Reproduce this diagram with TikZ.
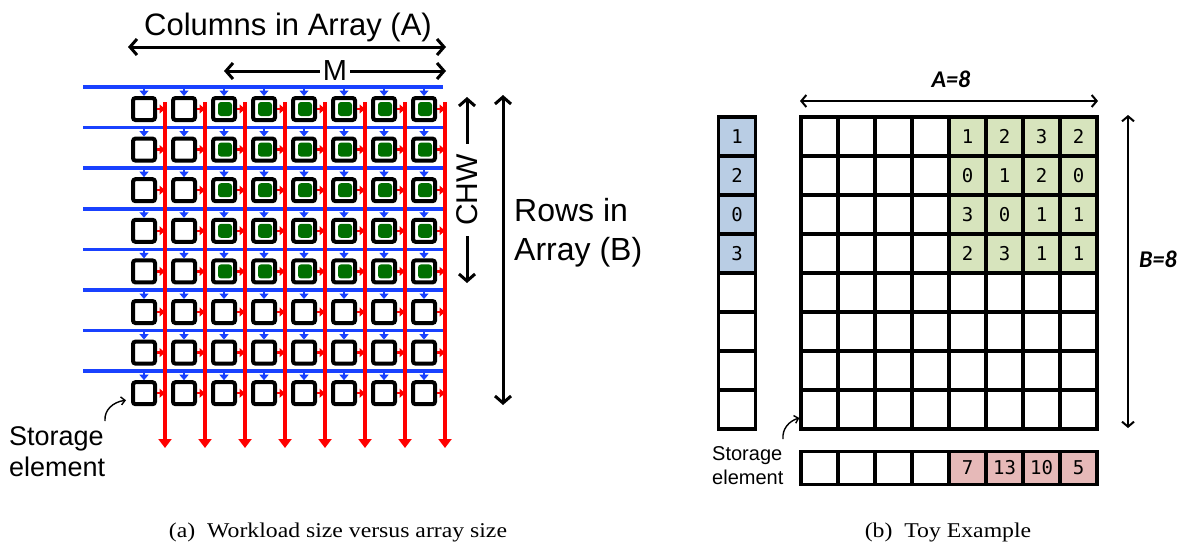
\documentclass[tikz,border=0pt]{standalone}
\usepackage{graphicx}
\usepackage{fontspec}
\setmainfont{Liberation Sans}
\newfontfamily\capfont{Liberation Serif}
\newfontfamily\numfont{DejaVu Sans Mono}
\newfontfamily\calfont{Carlito}
\usetikzlibrary{arrows.meta}

\definecolor{wireblue}{RGB}{25,65,255}
\definecolor{wirered}{RGB}{255,0,0}
\definecolor{pegreen}{RGB}{0,112,0}
\definecolor{inblue}{RGB}{185,205,228}
\definecolor{wgreen}{RGB}{215,228,189}
\definecolor{outpink}{RGB}{230,185,184}

\newcommand\fsz[2]{\fontsize{#1}{#2}\selectfont}

\tikzset{
  pe/.style={draw=black, line width=4pt, rounded corners=2.5pt,
    minimum size=22pt, inner sep=0pt},
  pedot/.style={fill=pegreen, rounded corners=3pt, minimum size=14pt, inner sep=0pt},
  bluewire/.style={draw=wireblue, line width=3.5pt},
  bluetap/.style={draw=wireblue, line width=2.5pt, -{Triangle[length=5.5pt,width=9pt]}},
  redwire/.style={draw=wirered, line width=3.6pt, -{Triangle[length=9pt,width=13pt]}},
  redtap/.style={draw=wirered, line width=2.5pt, -{Triangle[length=5.5pt,width=9pt]}},
  dimthick/.style={draw=black, line width=3pt,
    {Straight Barb[length=7pt,width=16pt]}-{Straight Barb[length=7pt,width=16pt]}},
  dimthin/.style={draw=black, line width=2pt,
    {Straight Barb[length=5pt,width=12pt]}-{Straight Barb[length=5pt,width=12pt]}},
  pointer/.style={draw=black, line width=1.4pt, -{Straight Barb[length=4pt,width=8pt]}},
  cell/.style={draw=black, line width=3.2pt, minimum width=37pt, minimum height=39pt,
    inner sep=0pt, font=\numfont\fsz{19}{19}},
  outcell/.style={cell, minimum height=33.5pt},
}

\begin{document}
\begin{tikzpicture}[x=1pt, y=-1pt]
\useasboundingbox[fill=white] (0,0) rectangle (1188,546);

% ---------- (a) systolic array ----------
% processing elements
\foreach \r in {1,...,8}{
  \pgfmathsetmacro\yy{109+40.6*(\r-1)}
  \foreach \c in {1,...,8}{
    \pgfmathsetmacro\xx{144+40*(\c-1)}
    \node[pe] (pe-\r-\c) at (\xx,\yy) {};
  }
  % horizontal input wires
  \coordinate (bl-\r) at (83,\yy-22);
  \coordinate (br-\r) at (443,\yy-22);
  \draw[bluewire] (bl-\r) -- (br-\r);
}
% taps from the input wires into each element
\foreach \r in {1,...,8}
  \foreach \c in {1,...,8}
    \draw[bluetap] (pe-\r-\c.north |- bl-\r) -- (pe-\r-\c.north);

% vertical output wires
\foreach \c in {1,...,8}{
  \pgfmathsetmacro\xx{165+40*(\c-1)}
  \coordinate (rt-\c) at (\xx,102);
  \coordinate (rb-\c) at (\xx,448);
  \draw[redwire] (rt-\c) -- (rb-\c);
}
\foreach \r in {1,...,8}
  \foreach \c in {1,...,8}
    \draw[redtap] (pe-\r-\c.east) -- (pe-\r-\c.east -| rt-\c);

% mapped weights
\foreach \r in {1,...,5}
  \foreach \c in {3,...,8}
    \node[pedot] (dot-\r-\c) at ([xshift=1pt]pe-\r-\c.center) {};

% dimension arrows
\coordinate (ca-l) at (128,47);
\coordinate (ca-r) at (446,47);
\draw[dimthick] (ca-l) -- (ca-r);
\node[anchor=base, font=\fsz{31}{31}] (cols) at (288,35) {Columns in Array (A)};

\coordinate (m-l) at (224,71);
\coordinate (m-r) at (446,71);
\draw[dimthick] (m-l) -- node[fill=white, inner xsep=3pt, inner ysep=1pt, font=\fsz{29}{29}] (mlab) {M} (m-r);

\coordinate (chw-t) at (467,97);
\coordinate (chw-b) at (467,283);
\draw[dimthick] (chw-t) -- node[rotate=90, fill=white, inner xsep=10pt, inner ysep=1pt, font=\fsz{30}{30}] (chwlab) {CHW} (chw-b);

\coordinate (rows-t) at (503,95);
\coordinate (rows-b) at (503,405);
\draw[dimthick] (rows-t) -- (rows-b);
\node[anchor=west, align=left, inner sep=0pt, font=\fsz{32}{39}] (rows) at (514,233) {Rows in\\Array (B)};

% storage element callout
\node[anchor=west, align=left, inner sep=0pt, font=\fsz{27}{31}] (st1) at (9,452) {Storage\\element};
\coordinate (st1-tail) at (105,421);
\draw[pointer] (st1-tail) .. controls (104,410) and (113,402) .. ([xshift=-5pt,yshift=-7pt]pe-8-1.west);

% ---------- (b) toy example ----------
% array cells
\foreach \r in {1,...,8}
  \foreach \c in {1,...,4}
    \node[cell] (gr-\r-\c) at ({801+37*(\c-0.5)},{117+39*(\r-0.5)}) {};
\foreach \r in {5,...,8}
  \foreach \c in {5,...,8}
    \node[cell] (gr-\r-\c) at ({801+37*(\c-0.5)},{117+39*(\r-0.5)}) {};
\foreach \v [count=\i from 0] in {1,2,3,2,0,1,2,0,3,0,1,1,2,3,1,1}{
  \pgfmathtruncatemacro\r{int(\i/4)+1}
  \pgfmathtruncatemacro\c{mod(\i,4)+5}
  \node[cell, fill=wgreen] (gr-\r-\c) at ({801+37*(\c-0.5)},{117+39*(\r-0.5)}) {\v};
}

% input vector
\foreach \v [count=\r] in {1,2,0,3}
  \node[cell, fill=inblue, minimum width=36.5pt] (iv-\r) at (737,{117+39*(\r-0.5)}) {\v};
\foreach \r in {5,...,8}
  \node[cell, minimum width=36.5pt] (iv-\r) at (737,{117+39*(\r-0.5)}) {};

% output row
\foreach \c in {1,...,4}
  \node[outcell] (ov-\c) at ({801+37*(\c-0.5)},468) {};
\foreach \v [count=\k] in {7,13,10,5}{
  \pgfmathtruncatemacro\c{\k+4}
  \node[outcell, fill=outpink] (ov-\c) at ({801+37*(\c-0.5)},468) {\v};
}

% array dimensions
\coordinate (a-l) at (800,101);
\coordinate (a-r) at (1098,101);
\draw[dimthin] (a-l) -- (a-r);
\node[anchor=base, font=\calfont\bfseries\itshape\fsz{24}{24}] (alab) at (951,87) {A=8};

\coordinate (b-t) at (1128,115);
\coordinate (b-b) at (1128,428);
\draw[dimthin] (b-t) -- (b-b);
\node[anchor=west, inner sep=0pt, font=\calfont\bfseries\itshape\fsz{24}{24}] (blab) at (1139,259) {B=8};

% storage element callout
\node[anchor=west, align=left, inner sep=0pt, font=\fsz{20}{24}] (st2) at (712,466) {Storage\\element};
\coordinate (st2-tail) at (783,439);
\draw[pointer] (st2-tail) .. controls (782,429) and (789,421) .. ([yshift=-8.5pt]gr-8-1.west);

% ---------- captions ----------
\node[anchor=base, inner sep=0pt] (capa) at (338,537)
  {\capfont\fsz{21}{21}\scalebox{1.13}[1]{(a)\ \ Workload size versus array size}};
\node[anchor=base, inner sep=0pt] (capb) at (948,537)
  {\capfont\fsz{21}{21}\scalebox{1.13}[1]{(b)\ \ Toy Example}};
\end{tikzpicture}
\end{document}
